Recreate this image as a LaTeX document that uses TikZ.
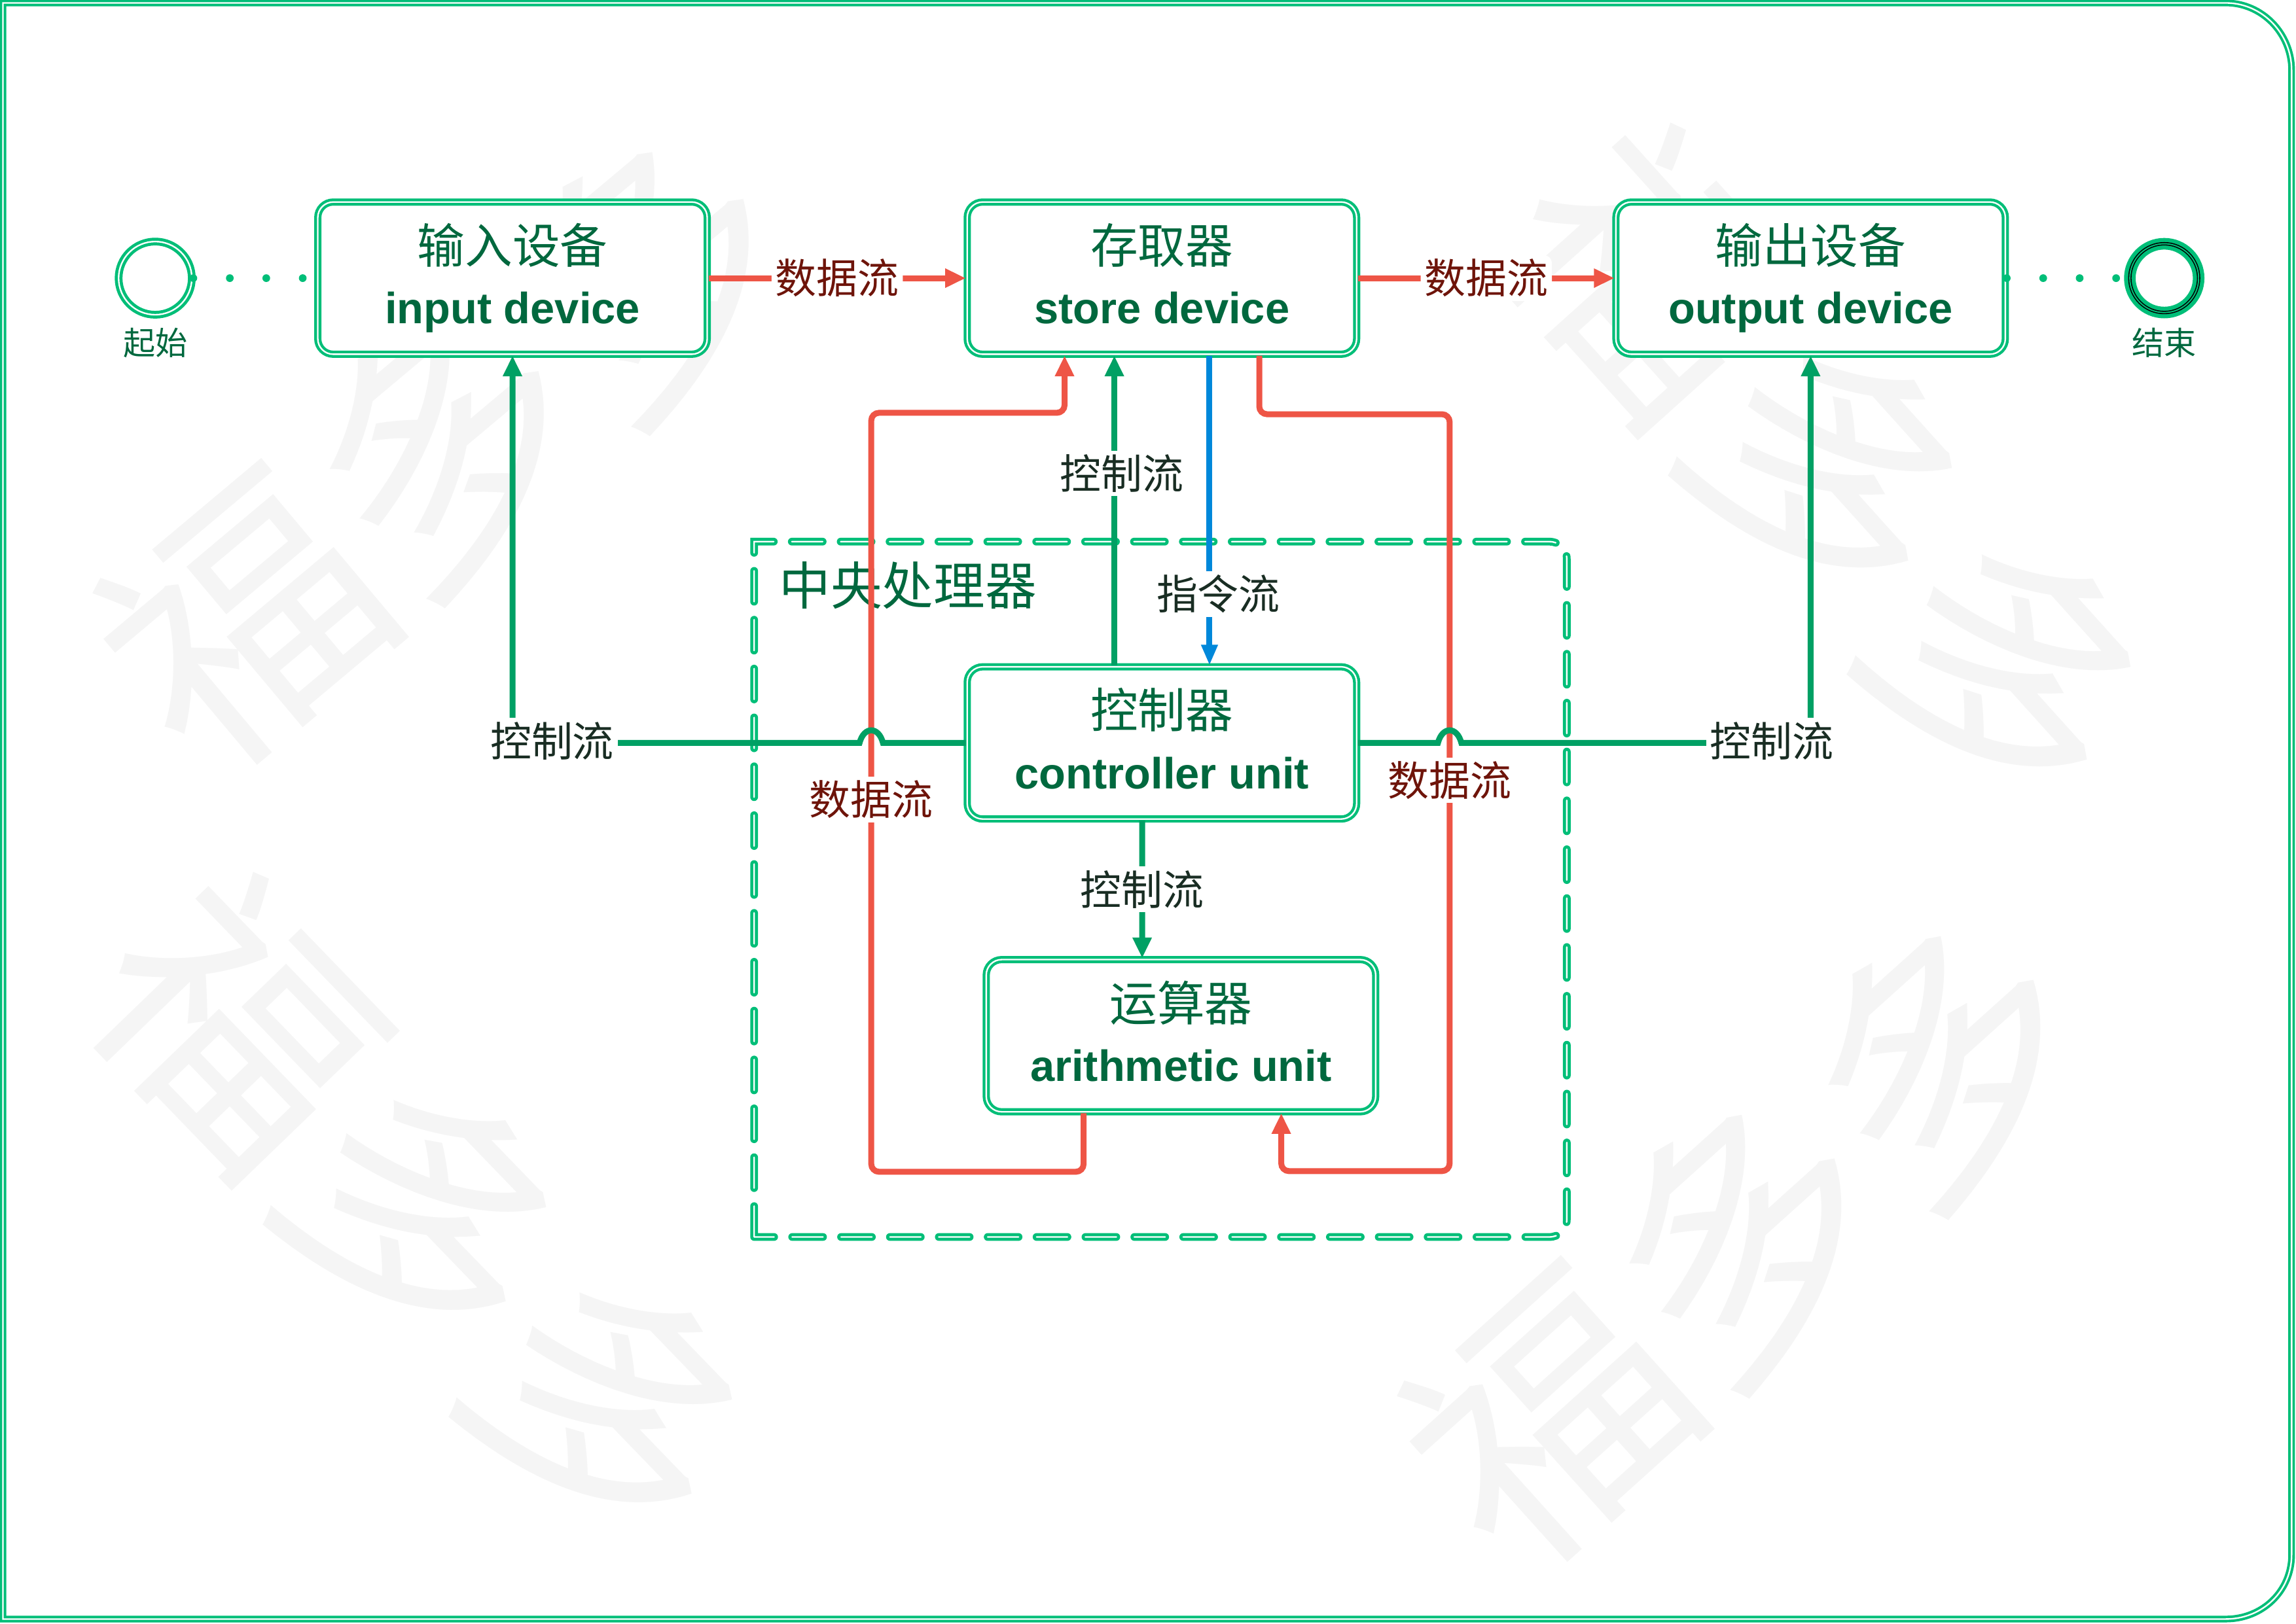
\documentclass[tikz,border=0pt]{standalone}
\usepackage{fontspec}
\setmainfont{Liberation Sans}
\newfontfamily\cjk{Noto Sans CJK SC}
\usepackage{tikz}
\usetikzlibrary{arrows.meta,positioning,calc}
\usepackage{xcolor}
\definecolor{boxgreen}{RGB}{0,190,120}
\definecolor{textgreen}{RGB}{0,104,62}
\definecolor{flowgreen}{RGB}{0,160,100}
\definecolor{flowred}{RGB}{238,85,70}
\definecolor{flowblue}{RGB}{0,136,218}
\definecolor{datared}{RGB}{110,20,10}
\definecolor{labeldark}{RGB}{25,45,35}

\begin{document}
\begin{tikzpicture}[x=0.02cm, y=-0.02cm,
    devbox/.style={draw=boxgreen, double=white, line width=1.1pt, double distance=0.6pt, fill=white, rounded corners=6pt, minimum width=5.32cm, minimum height=2.08cm, align=center, text=textgreen, font=\fontsize{17}{23.5}\selectfont},
    evstart/.style={circle, draw=boxgreen, double=white, line width=1.2pt, double distance=0.6pt, fill=white, minimum size=1.0cm},
    evend/.style={circle, draw=boxgreen, line width=4.5pt, fill=white, minimum size=0.94cm},
    evlabel/.style={text=textgreen, font=\cjk\fontsize{12.5}{13}\selectfont},
    dataflow/.style={draw=flowred, line width=2.3pt, rounded corners=3pt, -{Triangle[length=8pt,width=7pt]}},
    ctrlflow/.style={draw=flowgreen, line width=2.3pt, -{Triangle[length=8pt,width=7pt]}},
    instrflow/.style={draw=flowblue, line width=2.3pt, -{Triangle[length=8pt,width=6pt]}},
    dotflow/.style={draw=boxgreen, line width=3pt, line cap=round, dash pattern=on 0pt off 14.17pt},
    dlabel/.style={fill=white, inner sep=1.5pt, text=datared, font=\cjk\fontsize{16}{16}\selectfont},
    clabel/.style={fill=white, inner sep=1.5pt, text=labeldark, font=\cjk\fontsize{16}{16}\selectfont},
    cpubox/.style={draw=boxgreen, double=white, line width=1.2pt, double distance=0.6pt, line cap=round, dash pattern=on 12pt off 7pt},
    framebox/.style={draw=boxgreen, double=white, line width=1pt, double distance=0.6pt},
    wmark/.style={text=black!4, font=\cjk\fontsize{104}{104}\selectfont, inner sep=0pt}]
    \useasboundingbox (0,0) rectangle (1568,1109);

    % Watermark
    \node[wmark, rotate=40] (wm1) at (305,305) {福多多};
    \node[wmark, rotate=-48] (wm2) at (1250,322) {福多多};
    \node[wmark, rotate=-46] (wm3) at (290,830) {福多多};
    \node[wmark, rotate=42] (wm4) at (1192,845) {福多多};

    % Frame and CPU area
    \draw[framebox] (2,2) -- (1520,2) .. controls (1545,2) and (1565,23) .. (1565,48) -- (1565,1062) .. controls (1565,1087) and (1545,1106) .. (1520,1106) -- (2,1106) -- cycle;
    \draw[cpubox] (515,845) -- (515,370) -- (1058,370) .. controls (1065,370) and (1070,375) .. (1070,382) -- (1070,833) .. controls (1070,840) and (1065,845) .. (1058,845) -- cycle;
    \node[text=textgreen, font=\cjk\fontsize{20}{20}\selectfont, anchor=west] (cpulbl) at (526,400) {中央处理器};

    % Devices
    \node[evstart] (start) at (106,190) {};
    \node[evlabel] (startlbl) at (106,234) {起始};
    \node[devbox] (inp) at (350,190) {{\cjk\fontsize{18.5}{23}\selectfont 输入设备}\\{\bfseries input device}};
    \node[devbox] (sto) at (793.5,190) {{\cjk\fontsize{18.5}{23}\selectfont 存取器}\\{\bfseries store device\vphantom{p}}};
    \node[devbox] (outp) at (1236.5,190) {{\cjk\fontsize{18.5}{23}\selectfont 输出设备}\\{\bfseries output device}};
    \node[evend] (stop) at (1478,190) {};
    \draw[black, line width=0.4pt, double=boxgreen, double distance=0.5pt] (stop.center) circle[radius=0.47cm];
    \node[evlabel] (stoplbl) at (1478,234) {结束};
    \node[devbox] (ctrl) at (793.5,507.5) {{\cjk\fontsize{18.5}{23}\selectfont 控制器}\\{\bfseries controller unit\vphantom{p}}};
    \node[devbox] (arith) at (806.5,707.5) {{\cjk\fontsize{18.5}{23}\selectfont 运算器}\\{\bfseries arithmetic unit\vphantom{p}}};

    % Arrows
    \draw[dotflow] (start.east) -- (inp.west);
    \draw[dotflow] (outp.east) -- (stop.west);
    \draw[dataflow] (inp) -- node[dlabel] (d1) {数据流} (sto);
    \draw[dataflow] (sto) -- node[dlabel] (d2) {数据流} (outp);
    \draw[dataflow] ([xshift=-1.33cm]arith.south) -- ++(0,40) -| (595,282) -| ([xshift=-1.33cm]sto.south);
    \draw[dataflow] ([xshift=1.33cm]sto.south) -- ++(0,40) -| (990,800) -| ([xshift=1.37cm]arith.south);
    \draw[ctrlflow] ([xshift=-0.65cm]ctrl.north) -- node[clabel, pos=0.62, xshift=0.1cm] (c1) {控制流} ([xshift=-0.65cm]sto.south);
    \draw[instrflow] ([xshift=0.65cm]sto.south) -- node[clabel, pos=0.77, xshift=0.12cm] (i1) {指令流} ([xshift=0.65cm]ctrl.north);
    \draw[ctrlflow] ([xshift=-0.27cm]ctrl.south) -- node[clabel] (c2) {控制流} ([xshift=-0.53cm]arith.north);
    \draw[ctrlflow] (ctrl.west) -- (603,507.5) .. controls (600,496) and (590,496) .. (587,507.5) -| (inp.south);
    \draw[ctrlflow] (ctrl.east) -- (982,507.5) .. controls (985,496) and (995,496) .. (998,507.5) -| (outp.south);

    % Labels
    \node[dlabel] (d3) at (595,546) {数据流};
    \node[dlabel] (d4) at (990,533) {数据流};
    \node[clabel] (c3) at (377,506) {控制流};
    \node[clabel] (c4) at (1210,506) {控制流};
\end{tikzpicture}
\end{document}
